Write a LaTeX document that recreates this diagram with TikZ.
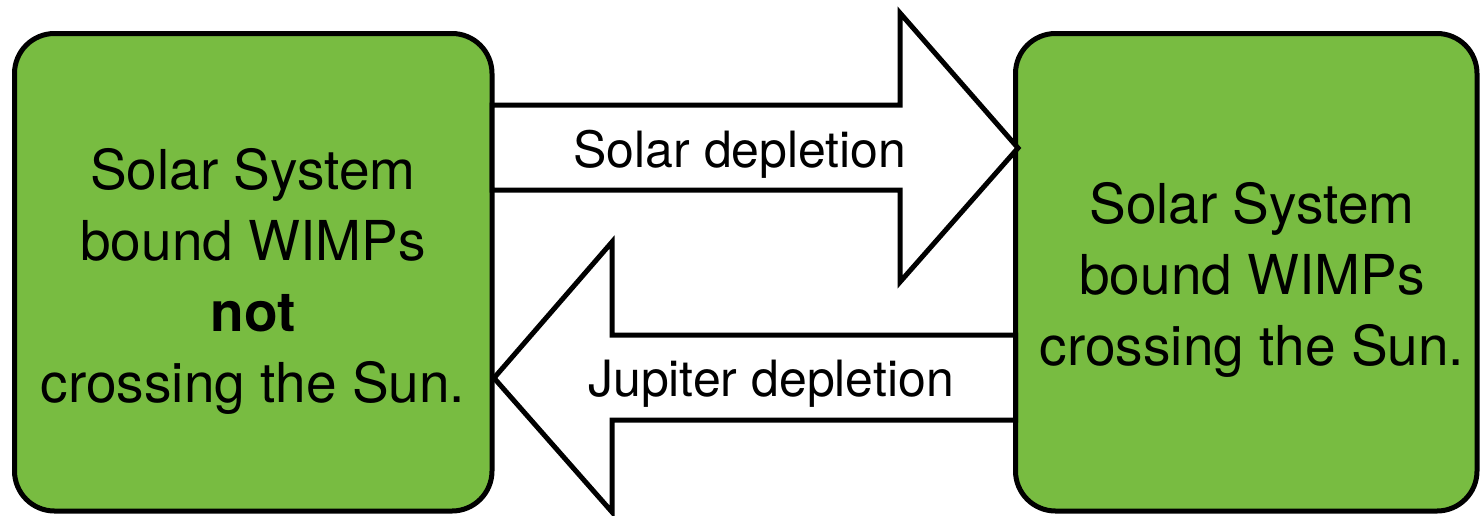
\documentclass[tikz,border=0pt]{standalone}
\usepackage{fontspec}
\setmainfont{TeX Gyre Heros}
\definecolor{boxgreen}{RGB}{120,188,65}
\tikzset{
  statebox/.style={draw=black, line width=5pt, fill=boxgreen, rounded corners=40pt,
    inner sep=0pt, outer sep=0pt},
  boxtext/.style={align=center, font=\fontsize{55}{71}\selectfont, inner sep=0pt, anchor=base},
  bigarrow/.style={draw=black, line width=5pt, fill=white, line join=miter, miter limit=10},
  arrowlabel/.style={font=\fontsize{50}{60}\selectfont, inner sep=0pt, anchor=base}
}
\begin{document}
\begin{tikzpicture}[x=1pt,y=-1pt]
\useasboundingbox (0,0) rectangle (1480,515);
\node[statebox, minimum width=477.5pt, minimum height=477.5pt] (L) at (253.25,272.25) {};
\node[statebox, minimum width=461.5pt, minimum height=477.5pt] (R) at (1246.25,272.25) {};
\node[boxtext] (Ltxt) at (253,402)
  {Solar System\\bound WIMPs\\\textbf{not}\\crossing the Sun.};
\node[boxtext] (Rtxt) at (1252,365)
  {Solar System\\bound WIMPs\\crossing the Sun.};
% top arrow (solar depletion)
\draw[bigarrow] (L.east |- 0,105) -- (900,105) -- (900,13) -- (1018,148) -- (900,282) -- (900,190) -- (L.east |- 0,190) -- cycle;
% bottom arrow (jupiter depletion)
\draw[bigarrow] (R.west |- 0,335) -- (612,335) -- (612,242) -- (494,378) -- (612,512) -- (612,420) -- (R.west |- 0,420) -- cycle;
\node[arrowlabel] (t1) at (740,167) {Solar depletion};
\node[arrowlabel] (t2) at (771,396) {Jupiter depletion};
\end{tikzpicture}
\end{document}
